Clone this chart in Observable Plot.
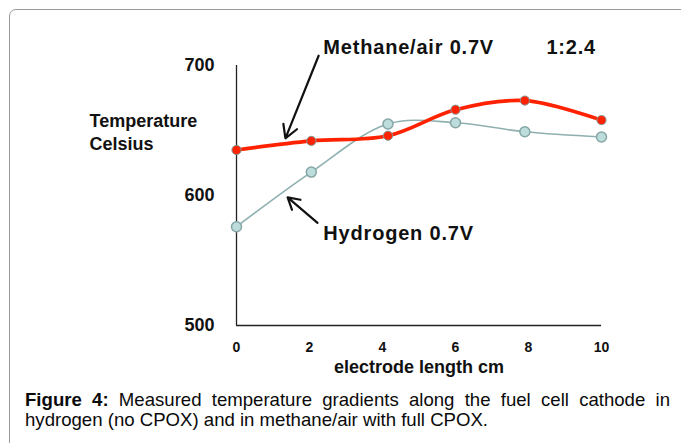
<!DOCTYPE html>
<html><head><meta charset="utf-8">
<script src="https://cdn.jsdelivr.net/npm/d3@7"></script>
<script src="https://cdn.jsdelivr.net/npm/@observablehq/plot@0.6"></script>
<style>
html,body{margin:0;padding:0;background:#fff;width:681px;height:443px;overflow:hidden;font-family:"Liberation Sans",Arial,sans-serif}
#frame{position:absolute;left:9px;top:9px;width:720px;height:480px;border:1px solid #9a9a9a;border-radius:7px;box-sizing:border-box}
#chart{position:absolute;left:0;top:0}
#caption{position:absolute;left:25px;top:390px;width:645px;font-size:18.6px;line-height:20px;color:#0a0a0a}
#caption .l1{text-align:justify;text-align-last:justify;white-space:nowrap}
</style></head><body>
<div id="frame"></div>
<div id="chart"></div>
<div id="caption"><div class="l1"><b>Figure 4:</b> Measured temperature gradients along the fuel cell cathode in</div><div>hydrogen (no CPOX) and in methane/air with full CPOX.</div></div>
<script>
// electrode positions (cm)
const positions = [0, 2.05, 4.15, 6, 7.9, 10];
const methaneTemps = [635, 642, 646, 666, 673, 658];
const hydrogenTemps = [576, 618, 655, 656, 649, 645];
const xTicks = [0, 2, 4, 6, 8, 10];
const yTicks = [500, 600, 700];
const xLabel = "electrode length cm";
const yLabel = "Temperature\nCelsius";
const annotationLabels = ["Methane/air 0.7V", "1:2.4", "Hydrogen 0.7V"];
const annotationX = [2.38, 8.49, 2.38];
const annotationY = [714, 714, 571];
const arrowFromX = [2.25, 2.22];
const arrowFromY = [707.5, 579];
const arrowToX = [1.34, 1.40];
const arrowToY = [644, 598.5];

const methane = positions.map((x, i) => ({x, y: methaneTemps[i]}));
const hydrogen = positions.map((x, i) => ({x, y: hydrogenTemps[i]}));
const annotations = annotationLabels.map((t, i) => ({t, x: annotationX[i], y: annotationY[i]}));
const arrows = arrowFromX.map((d, i) => ({x1: d, y1: arrowFromY[i], x2: arrowToX[i], y2: arrowToY[i]}));

const font = "Liberation Sans, Arial, sans-serif";
const chart = Plot.plot({
  width: 681, height: 380,
  marginLeft: 236, marginRight: 80, marginTop: 65, marginBottom: 55,
  style: {fontFamily: font, color: "#111", background: "transparent", overflow: "visible"},
  x: {domain: [0, 10]},
  y: {domain: [500, 700]},
  marks: [
    Plot.axisY({ticks: yTicks, tickSize: 0, tickPadding: 22, fontSize: 18, fontWeight: "bold", label: null}),
    Plot.axisX({ticks: xTicks, tickSize: 0, tickPadding: 17, fontSize: 14, fontWeight: "bold", label: null}),
    Plot.ruleX([0], {stroke: "#222", strokeWidth: 1.3}),
    Plot.ruleY([500], {stroke: "#222", strokeWidth: 1.3}),
    Plot.line(hydrogen, {x: "x", y: "y", curve: "catmull-rom", stroke: "#8fb0b0", strokeWidth: 1.6}),
    Plot.line(methane, {x: "x", y: "y", curve: "catmull-rom", stroke: "#ff2200", strokeWidth: 3.6}),
    Plot.dot(hydrogen, {x: "x", y: "y", r: 5, fill: "#bddcdc", stroke: "#86a6a6", strokeWidth: 1.5}),
    Plot.dot(methane, {x: "x", y: "y", r: 4.6, fill: "#ff2200", stroke: "#7f9c9c", strokeWidth: 1}),
    Plot.arrow(arrows, {x1: "x1", y1: "y1", x2: "x2", y2: "y2", stroke: "#111", strokeWidth: 2.2, headLength: 10}),
    Plot.text(annotations, {x: "x", y: "y", text: "t", textAnchor: "start", fontSize: 20, fontWeight: "bold", fill: "#111"}),
    Plot.text([yLabel], {frameAnchor: "top-left", lineAnchor: "middle", text: d => d, dx: -147, dy: 66, textAnchor: "start", fontSize: 18, fontWeight: "bold", lineHeight: 1.25, fill: "#111"}),
    Plot.text([xLabel], {frameAnchor: "bottom", lineAnchor: "middle", text: d => d, dy: 42, fontSize: 18, fontWeight: "bold", fill: "#111"})
  ]
});
d3.select(chart).selectAll("text").filter(function() { return annotationLabels.includes(this.textContent); }).style("letter-spacing", "0.8px");
document.getElementById("chart").appendChild(chart);
</script>
</body></html>
